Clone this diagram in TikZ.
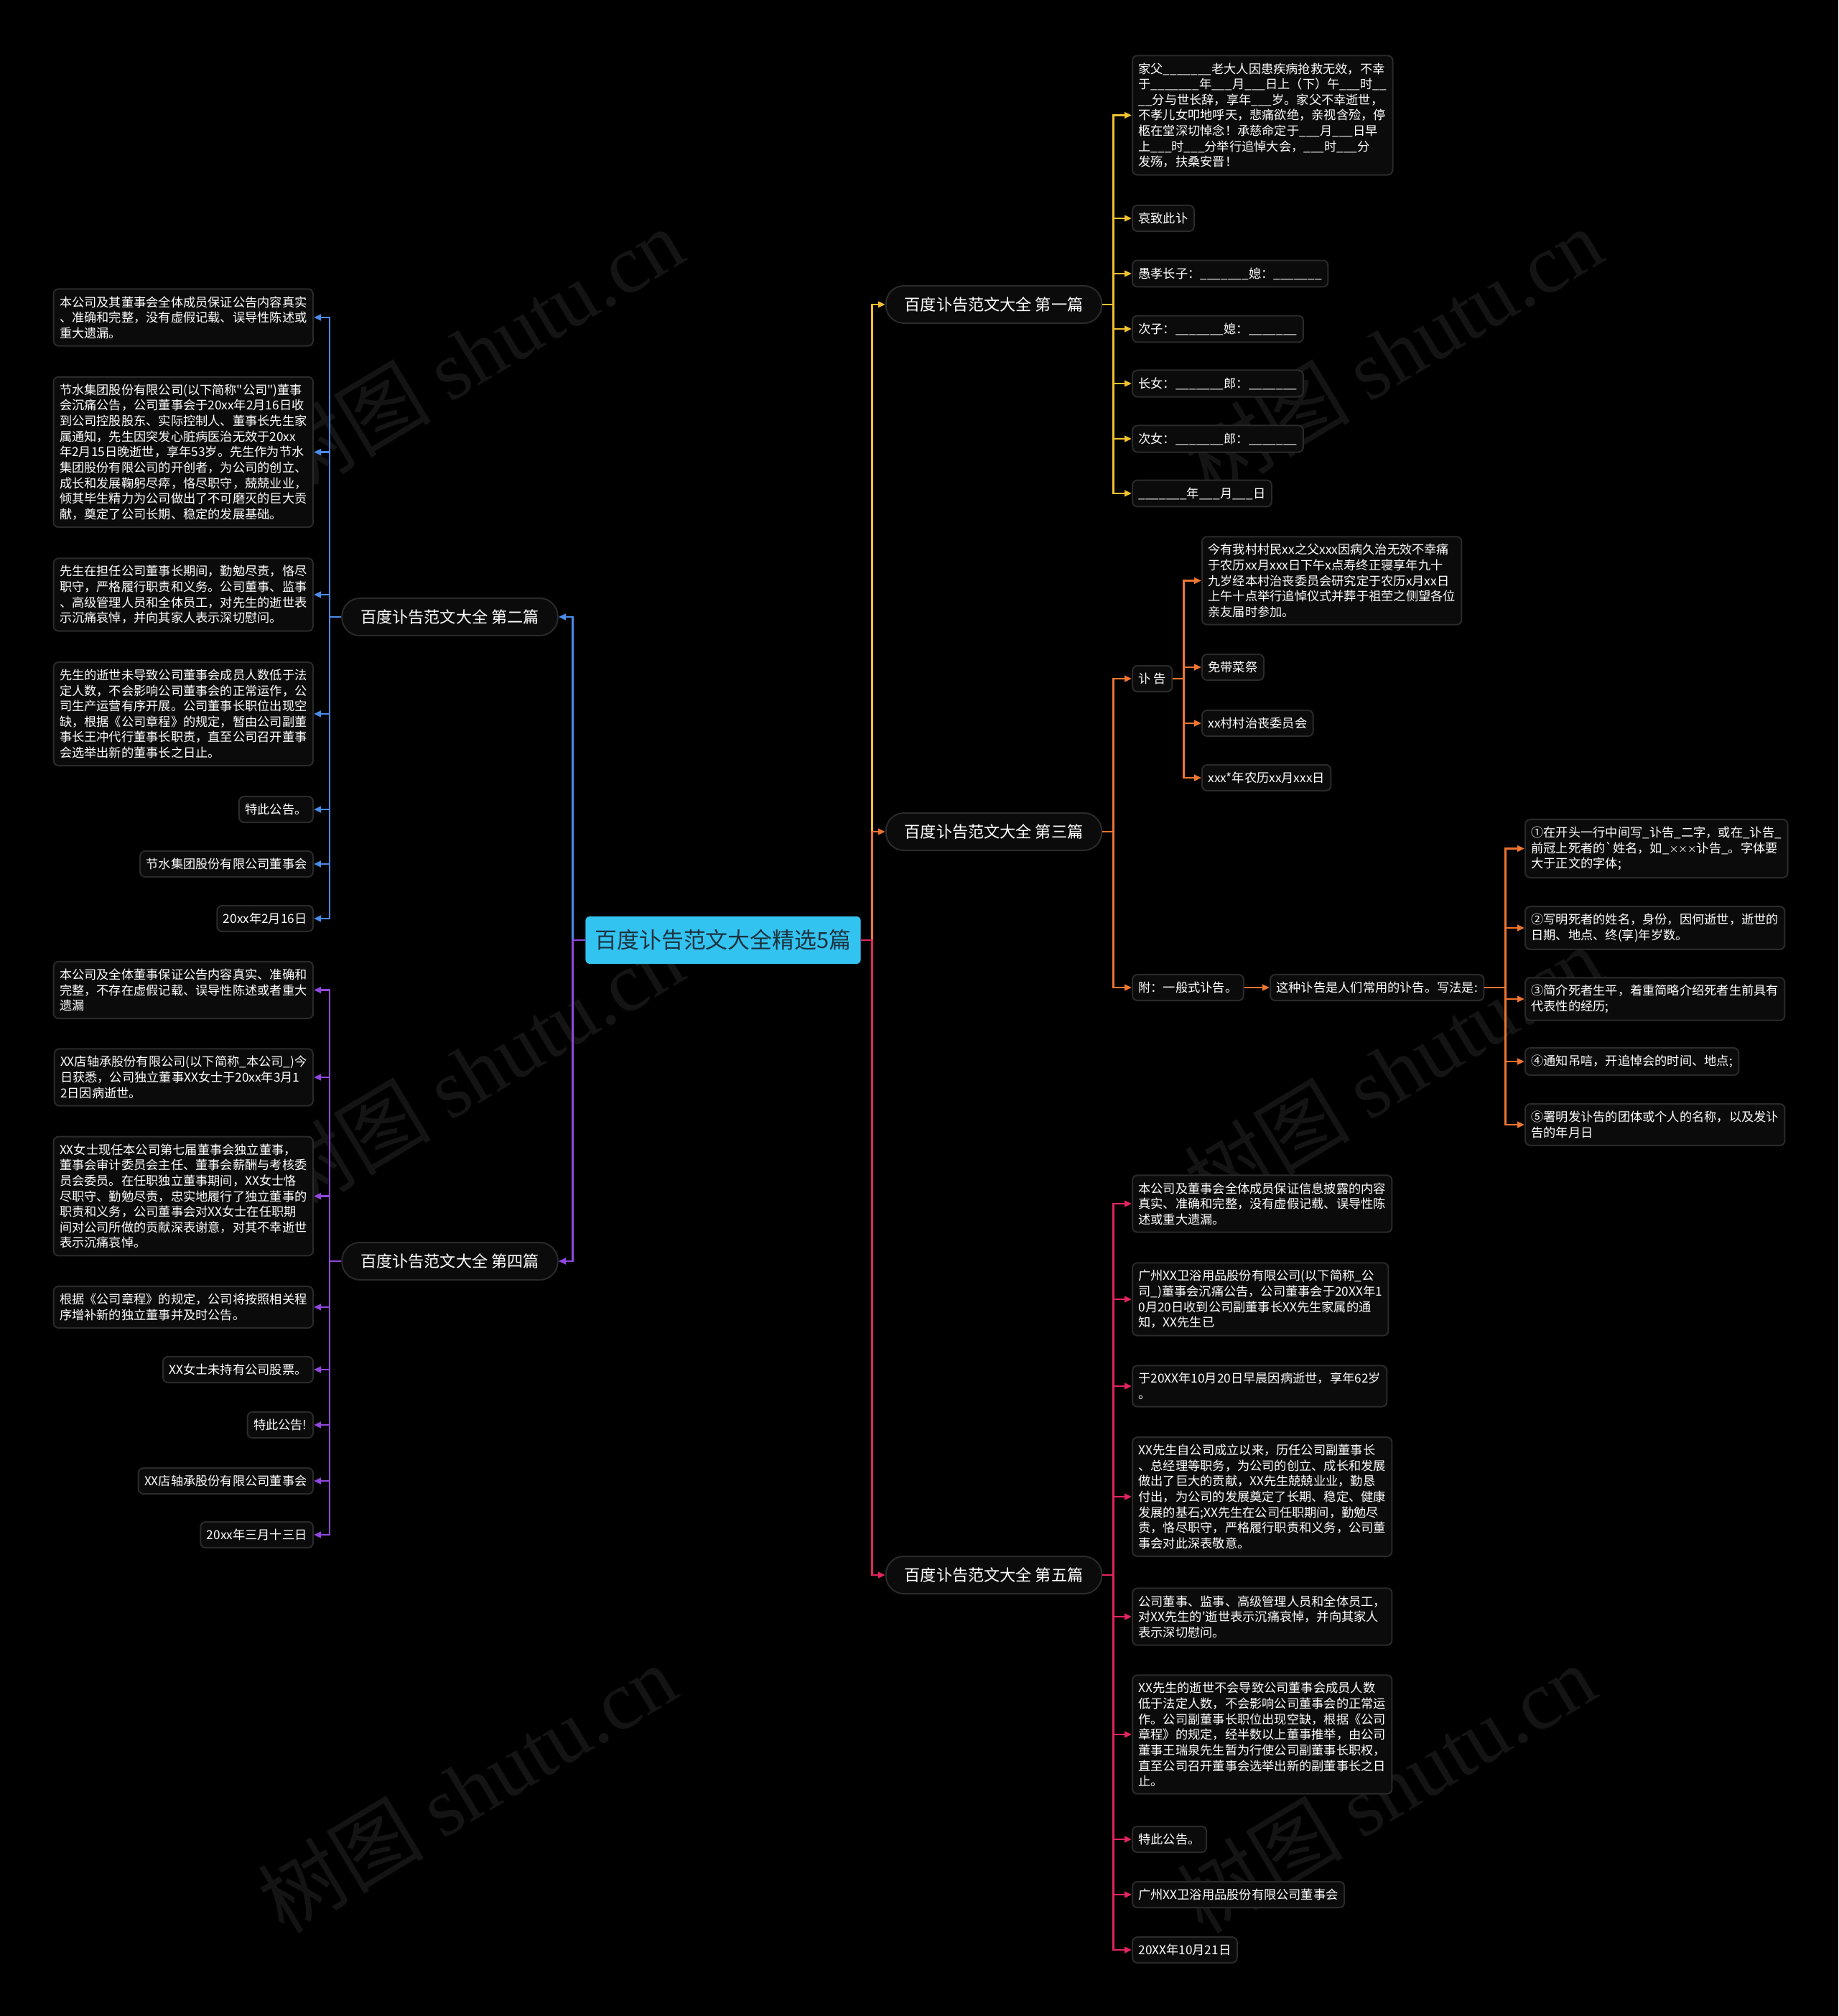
\documentclass[tikz,border=0pt]{standalone}
\usepackage{fontspec}
\setmainfont{Noto Sans CJK SC}
\newfontfamily\wmlatin{Liberation Serif}
\usetikzlibrary{arrows.meta,positioning}

\definecolor{bgblack}{HTML}{000000}
\definecolor{rootblue}{HTML}{33C3F0}
\definecolor{roottext}{HTML}{1B3340}
\definecolor{boxline}{HTML}{2A2A2A}
\definecolor{boxfill}{HTML}{0B0B0B}
\definecolor{wmgray}{HTML}{141414}
\definecolor{cyel}{HTML}{F2C12E}
\definecolor{corg}{HTML}{EF7530}
\definecolor{cred}{HTML}{E3245E}
\definecolor{cblu}{HTML}{4A8BEA}
\definecolor{cpur}{HTML}{9147DF}

\newcommand{\leaffont}{\fontsize{4.9}{6.15}\selectfont}
\newcommand{\branchfont}{\fontsize{6.3}{7.5}\selectfont}
\newcommand{\rootfont}{\fontsize{8.8}{11}\selectfont}
\newcommand{\smallx}{{\fontsize{3.6}{6}\selectfont ×××}}

\begin{document}
\begin{tikzpicture}[
  leaf/.style={draw=boxline, fill=boxfill, rounded corners=0.07cm, text=white,
               font=\leaffont, align=left, inner xsep=0.085cm, inner ysep=0.1cm, line width=0.02cm},
  leafr/.style={leaf, anchor=west},
  leafl/.style={leaf, anchor=east},
  branch/.style={draw=boxline, fill=boxfill, rounded corners=0.25cm, text=white,
                 font=\branchfont, minimum height=0.52cm, inner xsep=0.26cm, line width=0.02cm},
  root/.style={fill=rootblue, rounded corners=0.06cm, text=roottext, font=\rootfont,
               minimum height=0.66cm, inner xsep=0.13cm},
  wm/.style={text=wmgray, rotate=31, font=\fontsize{33}{33}\selectfont},
  ar/.style={-{Triangle[length=0.1cm,width=0.085cm]}, line width=0.025cm},
]
  \fill[bgblack] (0,0) rectangle (25.6,-28.07);
  \useasboundingbox (0,0) rectangle (25.6,-28.07);

  % watermarks
  \node[wm] (wm1) at (6.6,-4.9) {树图 {\wmlatin shutu.cn}};
  \node[wm] (wm2) at (19.4,-4.9) {树图 {\wmlatin shutu.cn}};
  \node[wm] (wm3) at (6.6,-14.9) {树图 {\wmlatin shutu.cn}};
  \node[wm] (wm4) at (19.4,-14.9) {树图 {\wmlatin shutu.cn}};
  \node[wm] (wm5) at (6.5,-24.9) {树图 {\wmlatin shutu.cn}};
  \node[wm] (wm6) at (19.3,-24.9) {树图 {\wmlatin shutu.cn}};

  % root and articles
  \node[root] (root) at (10.07,-13.09) {百度讣告范文大全精选5篇};
  \node[branch] (b1) at (13.84,-4.24) {百度讣告范文大全 第一篇};
  \node[branch] (b3) at (13.84,-11.58) {百度讣告范文大全 第三篇};
  \node[branch] (b5) at (13.84,-21.93) {百度讣告范文大全 第五篇};
  \node[branch] (b2) at (6.265,-8.59) {百度讣告范文大全 第二篇};
  \node[branch] (b4) at (6.265,-17.56) {百度讣告范文大全 第四篇};

  \draw[ar, cyel] (root.east) -- ++(0.15,0) |- (b1.west);
  \draw[ar, corg] (root.east) -- ++(0.15,0) |- (b3.west);
  \draw[ar, cred] (root.east) -- ++(0.15,0) |- (b5.west);
  \draw[ar, cblu] (root.west) -- ++(-0.17,0) |- (b2.east);
  \draw[ar, cpur] (root.west) -- ++(-0.17,0) |- (b4.east);

  % first article
  \node[leafr] (l1a) at (15.76,-1.605) {家父\_\_\_\_\_\_\_老大人因患疾病抢救无效，不幸\\
    于\_\_\_\_\_\_\_年\_\_\_月\_\_\_日上（下）午\_\_\_时\_\_\\
    \_\_分与世长辞，享年\_\_\_岁。家父不幸逝世，\\
    不孝儿女叩地呼天，悲痛欲绝，亲视含殓，停\\
    柩在堂深切悼念！承慈命定于\_\_\_月\_\_\_日早\\
    上\_\_\_时\_\_\_分举行追悼大会，\_\_\_时\_\_\_分\\
    发殇，扶桑安晋！};
  \node[leafr] (l1b) at (15.76,-3.04) {哀致此讣};
  \node[leafr] (l1c) at (15.76,-3.81) {愚孝长子：\_\_\_\_\_\_\_媳：\_\_\_\_\_\_\_};
  \node[leafr] (l1d) at (15.76,-4.58) {次子：\_\_\_\_\_\_\_媳：\_\_\_\_\_\_\_};
  \node[leafr] (l1e) at (15.76,-5.34) {长女：\_\_\_\_\_\_\_郎：\_\_\_\_\_\_\_};
  \node[leafr] (l1f) at (15.76,-6.11) {次女：\_\_\_\_\_\_\_郎：\_\_\_\_\_\_\_};
  \node[leafr] (l1g) at (15.76,-6.87) {\_\_\_\_\_\_\_年\_\_\_月\_\_\_日};
  \draw[ar, cyel] (b1.east) -- ++(0.15,0) |- (l1a.west); \draw[ar, cyel] (b1.east) -- ++(0.15,0) |- (l1b.west);
  \draw[ar, cyel] (b1.east) -- ++(0.15,0) |- (l1c.west); \draw[ar, cyel] (b1.east) -- ++(0.15,0) |- (l1d.west);
  \draw[ar, cyel] (b1.east) -- ++(0.15,0) |- (l1e.west); \draw[ar, cyel] (b1.east) -- ++(0.15,0) |- (l1f.west);
  \draw[ar, cyel] (b1.east) -- ++(0.15,0) |- (l1g.west);

  % third article
  \node[leafr] (fugao) at (15.76,-9.45) {讣 告};
  \node[leafr] (fuyi) at (15.76,-13.75) {附：一般式讣告。};
  \node[leafr] (l3a) at (16.73,-8.085) {今有我村村民xx之父xxx因病久治无效不幸痛\\
    于农历xx月xxx日下午x点寿终正寝享年九十\\
    九岁经本村治丧委员会研究定于农历x月xx日\\
    上午十点举行追悼仪式并葬于祖茔之侧望各位\\
    亲友届时参加。};
  \node[leafr] (l3b) at (16.73,-9.29) {免带菜祭};
  \node[leafr] (l3c) at (16.73,-10.07) {xx村村治丧委员会};
  \node[leafr] (l3d) at (16.73,-10.83) {xxx*年农历xx月xxx日};
  \node[leafr] (xiefa) at (17.68,-13.75) {这种讣告是人们常用的讣告。写法是:};
  \node[leafr] (w1) at (21.23,-11.815) {①在开头一行中间写\_讣告\_二字，或在\_讣告\_\\
    前冠上死者的\textasciigrave 姓名，如\_\smallx 讣告\_。字体要\\
    大于正文的字体;};
  \node[leafr] (w2) at (21.23,-12.92) {②写明死者的姓名，身份，因何逝世，逝世的\\
    日期、地点、终(享)年岁数。};
  \node[leafr] (w3) at (21.23,-13.91) {③简介死者生平，着重简略介绍死者生前具有\\
    代表性的经历;};
  \node[leafr] (w4) at (21.23,-14.78) {④通知吊唁，开追悼会的时间、地点;};
  \node[leafr] (w5) at (21.23,-15.66) {⑤署明发讣告的团体或个人的名称，以及发讣\\
    告的年月日};
  \draw[ar, corg] (b3.east) -- ++(0.15,0) |- (fugao.west); \draw[ar, corg] (b3.east) -- ++(0.15,0) |- (fuyi.west);
  \draw[ar, corg] (fugao.east) -- ++(0.15,0) |- (l3a.west); \draw[ar, corg] (fugao.east) -- ++(0.15,0) |- (l3b.west);
  \draw[ar, corg] (fugao.east) -- ++(0.15,0) |- (l3c.west); \draw[ar, corg] (fugao.east) -- ++(0.15,0) |- (l3d.west);
  \draw[ar, corg] (fuyi.east) -- (xiefa.west);
  \draw[ar, corg] (xiefa.east) -- ++(0.29,0) |- (w1.west); \draw[ar, corg] (xiefa.east) -- ++(0.29,0) |- (w2.west);
  \draw[ar, corg] (xiefa.east) -- ++(0.29,0) |- (w3.west); \draw[ar, corg] (xiefa.east) -- ++(0.29,0) |- (w4.west);
  \draw[ar, corg] (xiefa.east) -- ++(0.29,0) |- (w5.west);

  % fifth article
  \node[leafr] (l5a) at (15.76,-16.76) {本公司及董事会全体成员保证信息披露的内容\\
    真实、准确和完整，没有虚假记载、误导性陈\\
    述或重大遗漏。};
  \node[leafr] (l5b) at (15.76,-18.09) {广州XX卫浴用品股份有限公司(以下简称\_公\\
    司\_)董事会沉痛公告，公司董事会于20XX年1\\
    0月20日收到公司副董事长XX先生家属的通\\
    知，XX先生已};
  \node[leafr] (l5c) at (15.76,-19.30) {于20XX年10月20日早晨因病逝世，享年62岁\\
    。};
  \node[leafr] (l5d) at (15.76,-20.84) {XX先生自公司成立以来，历任公司副董事长\\
    、总经理等职务，为公司的创立、成长和发展\\
    做出了巨大的贡献，XX先生兢兢业业，勤恳\\
    付出，为公司的发展奠定了长期、稳定、健康\\
    发展的基石;XX先生在公司任职期间，勤勉尽\\
    责，恪尽职守，严格履行职责和义务，公司董\\
    事会对此深表敬意。};
  \node[leafr] (l5e) at (15.76,-22.51) {公司董事、监事、高级管理人员和全体员工，\\
    对XX先生的\textquotesingle 逝世表示沉痛哀悼，并向其家人\\
    表示深切慰问。};
  \node[leafr] (l5f) at (15.76,-24.15) {XX先生的逝世不会导致公司董事会成员人数\\
    低于法定人数，不会影响公司董事会的正常运\\
    作。公司副董事长职位出现空缺，根据《公司\\
    章程》的规定，经半数以上董事推举，由公司\\
    董事王瑞泉先生暂为行使公司副董事长职权，\\
    直至公司召开董事会选举出新的副董事长之日\\
    止。};
  \node[leafr] (l5g) at (15.76,-25.61) {特此公告。};
  \node[leafr] (l5h) at (15.76,-26.38) {广州XX卫浴用品股份有限公司董事会};
  \node[leafr] (l5i) at (15.76,-27.15) {20XX年10月21日};
  \draw[ar, cred] (b5.east) -- ++(0.15,0) |- (l5a.west); \draw[ar, cred] (b5.east) -- ++(0.15,0) |- (l5b.west);
  \draw[ar, cred] (b5.east) -- ++(0.15,0) |- (l5c.west); \draw[ar, cred] (b5.east) -- ++(0.15,0) |- (l5d.west);
  \draw[ar, cred] (b5.east) -- ++(0.15,0) |- (l5e.west); \draw[ar, cred] (b5.east) -- ++(0.15,0) |- (l5f.west);
  \draw[ar, cred] (b5.east) -- ++(0.15,0) |- (l5g.west); \draw[ar, cred] (b5.east) -- ++(0.15,0) |- (l5h.west);
  \draw[ar, cred] (b5.east) -- ++(0.15,0) |- (l5i.west);

  % second article
  \node[leafl] (l2a) at (4.37,-4.42) {本公司及其董事会全体成员保证公告内容真实\\
    、准确和完整，没有虚假记载、误导性陈述或\\
    重大遗漏。};
  \node[leafl] (l2b) at (4.37,-6.295) {节水集团股份有限公司(以下简称\textquotedbl 公司\textquotedbl )董事\\
    会沉痛公告，公司董事会于20xx年2月16日收\\
    到公司控股股东、实际控制人、董事长先生家\\
    属通知，先生因突发心脏病医治无效于20xx\\
    年2月15日晚逝世，享年53岁。先生作为节水\\
    集团股份有限公司的开创者，为公司的创立、\\
    成长和发展鞠躬尽瘁，恪尽职守，兢兢业业，\\
    倾其毕生精力为公司做出了不可磨灭的巨大贡\\
    献，奠定了公司长期、稳定的发展基础。};
  \node[leafl] (l2c) at (4.37,-8.28) {先生在担任公司董事长期间，勤勉尽责，恪尽\\
    职守，严格履行职责和义务。公司董事、监事\\
    、高级管理人员和全体员工，对先生的逝世表\\
    示沉痛哀悼，并向其家人表示深切慰问。};
  \node[leafl] (l2d) at (4.37,-9.94) {先生的逝世未导致公司董事会成员人数低于法\\
    定人数，不会影响公司董事会的正常运作，公\\
    司生产运营有序开展。公司董事长职位出现空\\
    缺，根据《公司章程》的规定，暂由公司副董\\
    事长王冲代行董事长职责，直至公司召开董事\\
    会选举出新的董事长之日止。};
  \node[leafl] (l2e) at (4.37,-11.27) {特此公告。};
  \node[leafl] (l2f) at (4.37,-12.03) {节水集团股份有限公司董事会};
  \node[leafl] (l2g) at (4.37,-12.79) {20xx年2月16日};
  \draw[ar, cblu] (b2.west) -- ++(-0.16,0) |- (l2a.east); \draw[ar, cblu] (b2.west) -- ++(-0.16,0) |- (l2b.east);
  \draw[ar, cblu] (b2.west) -- ++(-0.16,0) |- (l2c.east); \draw[ar, cblu] (b2.west) -- ++(-0.16,0) |- (l2d.east);
  \draw[ar, cblu] (b2.west) -- ++(-0.16,0) |- (l2e.east); \draw[ar, cblu] (b2.west) -- ++(-0.16,0) |- (l2f.east);
  \draw[ar, cblu] (b2.west) -- ++(-0.16,0) |- (l2g.east);

  % fourth article
  \node[leafl] (l4a) at (4.37,-13.785) {本公司及全体董事保证公告内容真实、准确和\\
    完整，不存在虚假记载、误导性陈述或者重大\\
    遗漏};
  \node[leafl] (l4b) at (4.37,-15.00) {XX店轴承股份有限公司(以下简称\_本公司\_)今\\
    日获悉，公司独立董事XX女士于20xx年3月1\\
    2日因病逝世。};
  \node[leafl] (l4c) at (4.37,-16.655) {XX女士现任本公司第七届董事会独立董事，\\
    董事会审计委员会主任、董事会薪酬与考核委\\
    员会委员。在任职独立董事期间，XX女士恪\\
    尽职守、勤勉尽责，忠实地履行了独立董事的\\
    职责和义务，公司董事会对XX女士在任职期\\
    间对公司所做的贡献深表谢意，对其不幸逝世\\
    表示沉痛哀悼。};
  \node[leafl] (l4d) at (4.37,-18.20) {根据《公司章程》的规定，公司将按照相关程\\
    序增补新的独立董事并及时公告。};
  \node[leafl] (l4e) at (4.37,-19.07) {XX女士未持有公司股票。};
  \node[leafl] (l4f) at (4.37,-19.84) {特此公告!};
  \node[leafl] (l4g) at (4.37,-20.62) {XX店轴承股份有限公司董事会};
  \node[leafl] (l4h) at (4.37,-21.37) {20xx年三月十三日};
  \draw[ar, cpur] (b4.west) -- ++(-0.16,0) |- (l4a.east); \draw[ar, cpur] (b4.west) -- ++(-0.16,0) |- (l4b.east);
  \draw[ar, cpur] (b4.west) -- ++(-0.16,0) |- (l4c.east); \draw[ar, cpur] (b4.west) -- ++(-0.16,0) |- (l4d.east);
  \draw[ar, cpur] (b4.west) -- ++(-0.16,0) |- (l4e.east); \draw[ar, cpur] (b4.west) -- ++(-0.16,0) |- (l4f.east);
  \draw[ar, cpur] (b4.west) -- ++(-0.16,0) |- (l4g.east); \draw[ar, cpur] (b4.west) -- ++(-0.16,0) |- (l4h.east);
\end{tikzpicture}
\end{document}
